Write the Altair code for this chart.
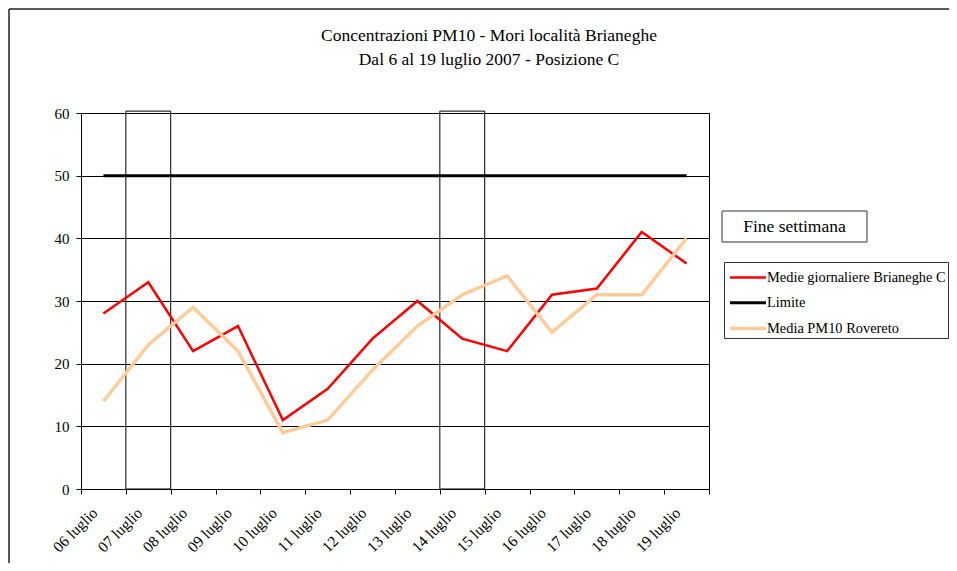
import altair as alt
import pandas as pd

# ---------------- data ----------------
dates = ["06 luglio", "07 luglio", "08 luglio", "09 luglio", "10 luglio",
         "11 luglio", "12 luglio", "13 luglio", "14 luglio", "15 luglio",
         "16 luglio", "17 luglio", "18 luglio", "19 luglio"]
brianeghe = [28, 33, 22, 26, 11, 16, 24, 30, 24, 22, 31, 32, 41, 36]
limite = [50, 50, 50, 50, 50, 50, 50, 50, 50, 50, 50, 50, 50, 50]
rovereto = [14, 23, 29, 22, 9, 11, 19, 26, 31, 34, 25, 31, 31, 40]
weekend_dates = ["07 luglio", "14 luglio"]
weekend_top = [60.3, 60.3]
series_names = ["Medie giornaliere Brianeghe C", "Limite", "Media PM10 Rovereto"]
series_colors = ["#FF0000", "#000000", "#FFCC99"]
series_widths = [2.5, 3.5, 3]
title_lines = ["Concentrazioni PM10 - Mori località Brianeghe",
               "Dal 6 al 19 luglio 2007 - Posizione C"]
box_label = "Fine settimana"
y_ticks = [0, 10, 20, 30, 40, 50, 60]

rows = []
for name, vals in zip(series_names, [brianeghe, limite, rovereto]):
    for d, v in zip(dates, vals):
        rows.append({"date": d, "value": v, "series": name})
lines_df = pd.DataFrame(rows)
weekend_df = pd.DataFrame({"date": weekend_dates, "value": weekend_top})
one = pd.DataFrame({"k": [0]})

FONT = "'Times New Roman', 'Liberation Serif', Tinos, 'DejaVu Serif', serif"
W, H = 628, 376
PL, PT = 73, 105

x_scale = alt.Scale(type="band", domain=dates, paddingInner=0, paddingOuter=0)
y_scale = alt.Scale(domain=[0, 60], nice=False)

x_axis = alt.Axis(title=None, labelAngle=-45, labelAlign="right", labelBaseline="middle",
                  tickBand="extent", tickSize=5, tickColor="black", domainColor="black",
                  labelFont=FONT, labelFontSize=15.5, labelColor="black",
                  labelPadding=16, labelOffset=-9, grid=False)
y_axis = alt.Axis(title=None, values=y_ticks, tickSize=5, tickColor="black",
                  domainColor="black", grid=True, gridColor="black", gridOpacity=1,
                  gridWidth=1, labelFont=FONT, labelFontSize=15, labelColor="black",
                  labelPadding=7)

# outer chart border (left and top edges; the rest lies outside the picture)
border_left = alt.Chart(one).mark_rule(stroke="#222222", strokeWidth=1.5).encode(
    x=alt.value(9 - 8 - PL), y=alt.value(9 - 8 - PT), y2=alt.value(H + 200))
border_top = alt.Chart(one).mark_rule(stroke="#222222", strokeWidth=1.5).encode(
    x=alt.value(9 - 8 - PL), x2=alt.value(W + 400), y=alt.value(9 - 8 - PT))

weekend = alt.Chart(weekend_df).mark_bar(fillOpacity=0, stroke="black", strokeWidth=1).encode(
    x=alt.X("date:N", scale=x_scale, sort=dates, axis=x_axis),
    y=alt.Y("value:Q", scale=y_scale, axis=y_axis),
)

lines = alt.Chart(lines_df).mark_line().encode(
    x=alt.X("date:N", scale=x_scale, sort=dates, bandPosition=0.5),
    y=alt.Y("value:Q", scale=y_scale),
    color=alt.Color("series:N",
                    scale=alt.Scale(domain=series_names, range=series_colors),
                    sort=series_names,
                    legend=alt.Legend(orient="none", legendX=643, legendY=149, title=None,
                                      strokeColor="#333333", fillColor="white", padding=2,
                                      symbolType="M-0.833,0H2.167", symbolSize=576,
                                      symbolStrokeWidth=3, labelOffset=13, rowPadding=5.3,
                                      labelFont=FONT, labelFontSize=14.4, labelColor="black",
                                      labelLimit=400)),
    strokeWidth=alt.StrokeWidth("series:N",
                                scale=alt.Scale(domain=series_names, range=series_widths),
                                legend=None),
)

title = alt.Chart(one).mark_text(text=title_lines, font=FONT, fontSize=17.5, align="center",
                                 baseline="alphabetic", lineHeight=23.5, color="black").encode(
    x=alt.value(489 - 8 - PL), y=alt.value(41 - 8 - PT))

fs_box = alt.Chart(one).mark_rect(fill="white", stroke="#333333", strokeWidth=1).encode(
    x=alt.value(722 - 8 - PL), x2=alt.value(867 - 8 - PL),
    y=alt.value(211 - 8 - PT), y2=alt.value(242 - 8 - PT))
fs_text = alt.Chart(one).mark_text(text=box_label, font=FONT, fontSize=17.5, align="center",
                                   baseline="middle", color="black").encode(
    x=alt.value(794.5 - 8 - PL), y=alt.value(227 - 8 - PT))

chart = alt.layer(border_left, border_top, weekend, lines, title, fs_box, fs_text).properties(
    width=W, height=H,
    autosize=alt.AutoSizeParams(type="none"),
    padding={"left": PL, "top": PT, "right": 941 - PL - W, "bottom": 555 - PT - H},
    background="white",
).configure_view(stroke="black", strokeWidth=1)

chart.save("out.html", embed_options={"renderer": "svg", "actions": False})
